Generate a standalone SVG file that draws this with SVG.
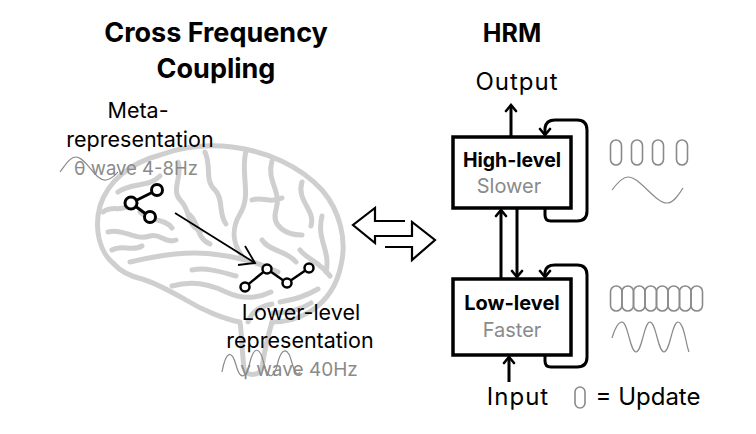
<svg xmlns="http://www.w3.org/2000/svg" width="756" height="434" viewBox="0 0 756 434">
<defs>
<style>
.t{font-family:"Inter","Open Sans","Liberation Sans",sans-serif;fill:#000}
.title{font-size:27px;font-weight:700;text-anchor:middle}
.lab{font-size:21.5px;text-anchor:middle}
.io{font-size:24px;letter-spacing:1px;text-anchor:middle}
.g{fill:#8a8a8a}
.box{fill:#fff;stroke:#000;stroke-width:3.5}
.conn{fill:none;stroke:#000;stroke-width:3}
.brain{fill:none;stroke:#cfcfcf;stroke-width:5;stroke-linecap:round;stroke-linejoin:round}
.wave{fill:none;stroke:#8a8a8a;stroke-width:1.2}
.pill{fill:none;stroke:#8a8a8a;stroke-width:1.6}
.node{fill:#fff;stroke:#000}
</style>
<marker id="chev" viewBox="-9 -7 11 14" markerWidth="11" markerHeight="14" refX="0" refY="0" orient="auto" markerUnits="userSpaceOnUse">
<path d="M-6,-5 L0,0 L-6,5" fill="none" stroke="#000" stroke-width="2.6" stroke-linecap="round" stroke-linejoin="miter"/>
</marker>
</defs>
<rect width="756" height="434" fill="#fff"/>

<g id="brain">
<path class="brain" d="M114,264 C99,252 94,228 100,206 C108,181 130,163 160,155 C182,147 206,144 232,147 C266,151 300,166 322,190 C340,211 347,240 341,265 C337,286 326,301 311,311 C300,318 286,322 272,322"/>
<path class="brain" d="M272,322 C268,336 264,352 262,368 C260,376 246,377 244,368 C242,352 242,336 240,322 C224,319 202,310 186,300 C170,291 156,283 142,279 C130,276 120,271 114,264"/>
<path class="brain" d="M130,262 C160,255 190,250 220,255 C242,258 260,263 278,272"/>
<path class="brain" d="M246,151 C240,175 252,194 240,214 C231,229 233,244 242,256"/>
<path class="brain" d="M118,192 C133,182 148,188 160,176"/>
<path class="brain" d="M108,232 C124,228 134,241 150,236 C160,233 166,244 176,240"/>
<path class="brain" d="M178,162 C183,177 170,190 181,201 C191,211 186,226 201,231"/>
<path class="brain" d="M205,152 C212,167 204,180 215,190 C224,199 218,214 226,224"/>
<path class="brain" d="M272,161 C266,181 282,191 276,210 C271,226 286,235 302,235"/>
<path class="brain" d="M302,182 C296,201 316,210 311,226"/>
<path class="brain" d="M322,216 C316,240 331,250 326,272"/>
<path class="brain" d="M172,286 C192,280 212,285 226,292 C241,299 256,299 271,292"/>
<path class="brain" d="M192,270 C207,267 221,272 236,276"/>
<path class="brain" d="M262,240 C270,252 286,250 296,262"/>
<path class="brain" d="M280,302 C293,300 306,296 318,289"/>
<path class="brain" d="M273,313 C286,313 300,310 311,303"/>
<path class="brain" d="M140,212 C150,222 165,218 172,228"/>
<path class="brain" d="M103,212 C112,205 120,212 128,206"/>
<path class="brain" d="M112,250 C122,244 132,252 142,246"/>
<path class="brain" d="M190,215 C200,225 196,238 210,244"/>
<path class="brain" d="M252,200 C262,196 270,204 282,198"/>
<path class="brain" d="M300,250 C308,260 320,262 330,276"/>
<path class="brain" d="M248,322 C252,310 262,306 272,304"/>
</g>

<g id="titles">
<text class="t title" x="216" y="42">Cross Frequency</text>
<text class="t title" x="216" y="78">Coupling</text>
<text class="t" x="512" y="42" font-size="25" font-weight="700" text-anchor="middle">HRM</text>
</g>

<g id="meta-label">
<text class="t lab" x="138" y="118">Meta-</text>
<text class="t lab" x="140" y="147">representation</text>
<path class="wave" d="M60,172 C66,164 70,157 76,157 C86,157 96,182 106,180 C112,179 115,175 118,172"/>
<text class="t g" x="136" y="175" font-size="18.5" text-anchor="middle">θ wave 4-8Hz</text>
</g>

<g id="meta-graph">
<line x1="131" y1="203" x2="157" y2="190" stroke="#000" stroke-width="3"/>
<line x1="131" y1="203" x2="150" y2="217" stroke="#000" stroke-width="3"/>
<circle class="node" cx="131" cy="203" r="6" stroke-width="3"/>
<circle class="node" cx="157" cy="190" r="5.5" stroke-width="3"/>
<circle class="node" cx="150" cy="217" r="5.5" stroke-width="3"/>
</g>

<g id="lower-graph">
<polyline points="245,287 267,269 287,283 309,268" fill="none" stroke="#000" stroke-width="2.5"/>
<circle class="node" cx="245" cy="287" r="4.5" stroke-width="2.5"/>
<circle class="node" cx="267" cy="269" r="4.5" stroke-width="2.5"/>
<circle class="node" cx="287" cy="283" r="4.5" stroke-width="2.5"/>
<circle class="node" cx="309" cy="268" r="4.5" stroke-width="2.5"/>
</g>

<g id="lower-label">
<text class="t lab" x="301" y="320" font-size="23">Lower-level</text>
<text class="t lab" x="300" y="348">representation</text>
<path class="wave" d="M222,372 C226,350 232,350 236,365 C240,380 246,380 250,362 C254,346 260,346 264,364 C268,380 274,380 278,362 C282,347 288,347 292,363 C295,374 298,376 300,372"/>
<text class="t g" x="299" y="376" font-size="19" text-anchor="middle">γ wave 40Hz</text>
</g>

<g id="exchange">
<path d="M405,221 H375 V208 L353,225 L375,243 V236 H412 V222 L435,240 L412,260 V247 H385" fill="none" stroke="#000" stroke-width="2.2" stroke-linejoin="miter"/>
</g>

<g id="high-level">
<rect class="box" x="453" y="137" width="118" height="71"/>
<text class="t" x="512" y="167" font-size="19.5" font-weight="700" text-anchor="middle">High-level</text>
<text class="t g" x="509" y="193" font-size="20" text-anchor="middle">Slower</text>
</g>

<g id="low-level">
<rect class="box" x="453" y="279" width="118" height="76"/>
<text class="t" x="512" y="310" font-size="20" font-weight="700" text-anchor="middle">Low-level</text>
<text class="t g" x="512" y="337" font-size="20" text-anchor="middle">Faster</text>
</g>

<g id="io-labels">
<text class="t io" x="517" y="90">Output</text>
<text class="t io" x="518" y="405">Input</text>
</g>

<g id="connectors">
<line class="conn" x1="511" y1="137" x2="511" y2="105" marker-end="url(#chev)"/>
<path class="conn" d="M545,208 V215 Q545,221 551,221 H577 Q587,221 587,211 V130 Q587,120 577,120 H555 Q546,120 545,128 V135" marker-end="url(#chev)"/>
<line class="conn" x1="501" y1="279" x2="501" y2="210" marker-end="url(#chev)"/>
<line class="conn" x1="517" y1="208" x2="517" y2="277" marker-end="url(#chev)"/>
<path class="conn" d="M545,355 V361 Q545,367 551,367 H577 Q587,367 587,357 V275 Q587,265 577,265 H555 Q546,265 545,272 V277" marker-end="url(#chev)"/>
<line class="conn" x1="509" y1="382" x2="509" y2="357" marker-end="url(#chev)"/>
<line x1="175" y1="213" x2="255" y2="263" stroke="#000" stroke-width="1.8"/>
<polyline points="238,265 255,263 245,246" fill="none" stroke="#000" stroke-width="1.8"/>
</g>

<g id="high-rhythm">
<rect class="pill" x="610.5" y="140" width="11" height="25" rx="5.5"/>
<rect class="pill" x="631.5" y="140" width="11" height="25" rx="5.5"/>
<rect class="pill" x="652.5" y="140" width="11" height="25" rx="5.5"/>
<rect class="pill" x="676.5" y="140" width="11" height="25" rx="5.5"/>
<path class="wave" d="M612,190 C618,182 623,177 628,177 C640,177 655,203 667,203 C673,203 678,196 683,188"/>
</g>

<g id="low-rhythm">
<rect class="pill" x="610.5" y="286" width="11.5" height="25" rx="5.75"/>
<rect class="pill" x="622" y="286" width="11.5" height="25" rx="5.75"/>
<rect class="pill" x="633.5" y="286" width="11.5" height="25" rx="5.75"/>
<rect class="pill" x="645" y="286" width="11.5" height="25" rx="5.75"/>
<rect class="pill" x="656.5" y="286" width="11.5" height="25" rx="5.75"/>
<rect class="pill" x="668" y="286" width="11.5" height="25" rx="5.75"/>
<rect class="pill" x="679.5" y="286" width="11.5" height="25" rx="5.75"/>
<rect class="pill" x="691" y="286" width="11.5" height="25" rx="5.75"/>
<path class="wave" d="M612,338 C615,328 618,322 622,322 C628,322 630,352 636,352 C642,352 644,322 650,322 C656,322 658,352 664,352 C670,352 672,322 678,322 C684,322 686,345 689,352"/>
</g>

<g id="legend">
<rect class="pill" x="575" y="387" width="10" height="21" rx="5"/>
<text class="t" x="648" y="405" font-size="24" text-anchor="middle">= Update</text>
</g>
</svg>
